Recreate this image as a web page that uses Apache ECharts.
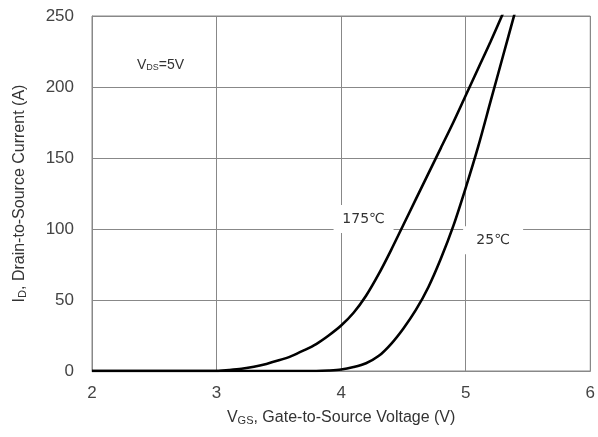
<!DOCTYPE html>
<html><head><meta charset="utf-8">
<script src="https://cdn.jsdelivr.net/npm/echarts@6/dist/echarts.min.js"></script>
<style>html,body{margin:0;padding:0;background:#fff}#c{width:598px;height:437px}</style>
</head><body><div id="c"></div>
<script>
const vgs175 = [2, 2.5, 3.0, 3.1, 3.2, 3.3, 3.4, 3.5, 3.6, 3.7, 3.8, 3.9, 4.0, 4.1, 4.2, 4.3, 4.4, 4.5, 4.6, 4.7, 4.8, 4.9, 5.0, 5.1, 5.2, 5.3];
const id175  = [0, 0, 0, 0.7, 1.6, 3, 5, 7.5, 10.5, 14.5, 19, 25, 32, 41, 53, 68, 85, 103, 121, 139, 157, 175, 194, 213, 232, 252];
const vgs25  = [2, 3.0, 3.8, 3.9, 4.0, 4.1, 4.2, 4.3, 4.4, 4.5, 4.6, 4.7, 4.8, 4.9, 5.0, 5.1, 5.2, 5.3, 5.4];
const id25   = [0, 0, 0, 0.3, 1, 2.8, 5.5, 10.5, 19, 30, 43, 59, 79, 102, 129, 158, 190, 222, 254];
const xTicks = [2, 3, 4, 5, 6];
const yTicks = [0, 50, 100, 150, 200, 250];
const label175 = {text: '175℃', at: [4.18, 107]};
const label25 = {text: '25℃', at: [5.22, 92]};

const chart = echarts.init(document.getElementById('c'));
const font = 'Liberation Sans, Arial, sans-serif';
function pairs(xs, ys){ return xs.map((x,i)=>[x, ys[i]]); }
function mark(l){
  return {silent:true, symbol:'rect', symbolSize:[60,28], itemStyle:{color:'#fff'},
    label:{show:true, position:'inside', formatter:l.text, color:'#333', fontSize:14, fontFamily:'DejaVu Sans, sans-serif', letterSpacing:-1},
    data:[{coord:l.at}]};
}
chart.setOption({
  animation:false,
  grid:{left:92, top:16, width:500, height:355, show:true, borderColor:'#888', borderWidth:1},
  xAxis:{type:'value', min:xTicks[0], max:xTicks[xTicks.length-1], interval:1,
    axisLine:{show:true, lineStyle:{color:'#888'}}, axisTick:{show:false},
    splitLine:{show:true, lineStyle:{color:'#888', width:1}},
    axisLabel:{color:'#444', fontSize:17, fontFamily:font, margin:14},
    name:'{a|V}{s|GS}{a|, Gate-to-Source Voltage (V)}', nameLocation:'middle', nameGap:38,
    nameTextStyle:{rich:{a:{fontSize:16, color:'#333', fontFamily:font}, s:{fontSize:11, color:'#333', fontFamily:font, verticalAlign:'bottom', padding:[6,0,0,0]}}}},
  yAxis:{type:'value', min:yTicks[0], max:yTicks[yTicks.length-1], interval:50,
    axisLine:{show:true, lineStyle:{color:'#888'}}, axisTick:{show:false},
    splitLine:{show:true, lineStyle:{color:'#888', width:1}},
    axisLabel:{color:'#444', fontSize:17, fontFamily:font, margin:18},
    name:'{a|I}{s|D}{a|, Drain-to-Source Current (A)}', nameLocation:'middle', nameGap:64,
    nameTextStyle:{rich:{a:{fontSize:16, color:'#333', fontFamily:font}, s:{fontSize:11, color:'#333', fontFamily:font, verticalAlign:'bottom', padding:[6,0,0,0]}}}},
  graphic:[{type:'text', left:137, top:58, z:10,
    style:{text:'{a|V}{s|DS}{a|=5V}', rich:{a:{fontSize:14, fill:'#333', fontFamily:font}, s:{fontSize:9, fill:'#333', fontFamily:font, padding:[5,0,0,0]}}}}],
  series:[
    {type:'line', data:pairs(vgs175, id175), smooth:0.3, showSymbol:false,
     lineStyle:{color:'#000', width:2.6}, clip:true, markPoint:mark(label175), z:3},
    {type:'line', data:pairs(vgs25, id25), smooth:0.3, showSymbol:false,
     lineStyle:{color:'#000', width:2.6}, clip:true, markPoint:mark(label25), z:3}
  ]
});
</script></body></html>
